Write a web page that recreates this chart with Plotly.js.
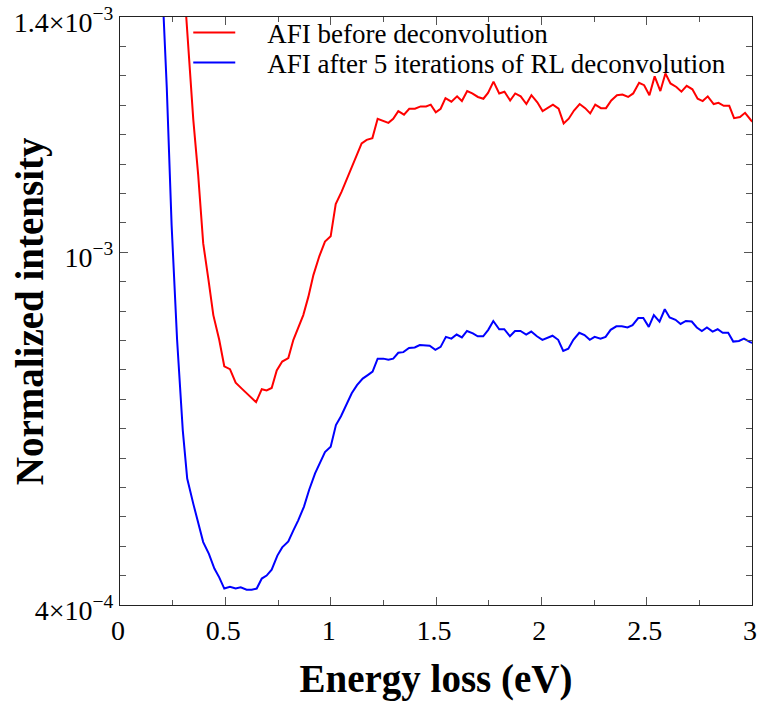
<!DOCTYPE html>
<html>
<head>
<meta charset="utf-8">
<script src="https://cdn.plot.ly/plotly-3.0.1.min.js"></script>
<style>html,body{margin:0;padding:0;background:#fff;}</style>
</head>
<body>
<div id="chart" style="width:757px;height:702px;"></div>
<script>
// Energy loss (eV)
const redEnergy = [0.299,0.348,0.371,0.395,0.420,0.443,0.471,0.495,0.522,0.549,0.578,0.604,0.625,0.646,0.673,0.696,0.720,0.744,0.770,0.799,0.823,0.846,0.870,0.894,0.918,0.946,0.973,1.000,1.024,1.052,1.076,1.100,1.124,1.147,1.171,1.198,1.223,1.250,1.274,1.297,1.321,1.348,1.373,1.400,1.427,1.453,1.475,1.499,1.522,1.545,1.573,1.600,1.623,1.648,1.672,1.699,1.725,1.747,1.773,1.800,1.825,1.852,1.876,1.902,1.929,1.953,1.981,2.006,2.031,2.055,2.082,2.106,2.130,2.155,2.182,2.208,2.232,2.256,2.283,2.307,2.332,2.359,2.385,2.412,2.436,2.464,2.488,2.513,2.538,2.565,2.589,2.613,2.641,2.665,2.690,2.717,2.742,2.766,2.790,2.818,2.841,2.866,2.892,2.915,2.943,2.967,2.996,3.019];
// Normalized intensity, in units of 1e-3
const redIntensity = [1.481,1.225,1.132,1.015,0.953,0.893,0.851,0.806,0.801,0.778,0.768,0.759,0.751,0.745,0.767,0.765,0.769,0.799,0.814,0.820,0.851,0.873,0.893,0.924,0.961,0.993,1.018,1.027,1.082,1.103,1.123,1.146,1.166,1.185,1.191,1.194,1.227,1.224,1.220,1.227,1.240,1.234,1.244,1.244,1.248,1.248,1.251,1.238,1.244,1.262,1.256,1.265,1.257,1.274,1.270,1.264,1.261,1.271,1.290,1.270,1.273,1.258,1.270,1.265,1.252,1.267,1.255,1.240,1.245,1.251,1.244,1.219,1.227,1.241,1.252,1.245,1.236,1.251,1.245,1.245,1.258,1.267,1.268,1.264,1.270,1.288,1.284,1.267,1.299,1.274,1.304,1.287,1.281,1.273,1.283,1.277,1.261,1.257,1.265,1.252,1.254,1.249,1.249,1.228,1.230,1.237,1.224,1.217];

const blueEnergy = [0.195,0.222,0.245,0.271,0.298,0.319,0.348,0.372,0.395,0.422,0.448,0.471,0.495,0.522,0.549,0.573,0.601,0.625,0.649,0.673,0.696,0.720,0.747,0.770,0.799,0.823,0.846,0.873,0.898,0.926,0.949,0.973,1.000,1.025,1.049,1.076,1.100,1.125,1.152,1.176,1.199,1.223,1.250,1.274,1.297,1.321,1.345,1.372,1.399,1.423,1.446,1.470,1.497,1.522,1.547,1.573,1.598,1.623,1.647,1.675,1.698,1.724,1.748,1.772,1.800,1.824,1.851,1.875,1.901,1.928,1.952,1.979,2.005,2.029,2.053,2.080,2.104,2.128,2.152,2.180,2.205,2.230,2.253,2.281,2.305,2.329,2.356,2.382,2.409,2.433,2.460,2.484,2.510,2.534,2.561,2.586,2.609,2.637,2.661,2.686,2.714,2.738,2.762,2.786,2.813,2.837,2.861,2.887,2.911,2.938,2.962,2.991,3.019];
const blueIntensity = [1.498,1.280,1.046,0.851,0.697,0.615,0.572,0.541,0.507,0.487,0.462,0.447,0.428,0.431,0.428,0.430,0.426,0.426,0.428,0.445,0.450,0.460,0.484,0.498,0.508,0.527,0.544,0.567,0.596,0.624,0.643,0.660,0.669,0.706,0.721,0.743,0.760,0.774,0.785,0.791,0.797,0.819,0.819,0.817,0.819,0.829,0.830,0.837,0.838,0.842,0.841,0.841,0.834,0.839,0.856,0.853,0.860,0.855,0.866,0.862,0.857,0.857,0.868,0.883,0.869,0.869,0.857,0.866,0.866,0.860,0.865,0.857,0.851,0.855,0.858,0.851,0.832,0.836,0.851,0.863,0.859,0.851,0.856,0.853,0.856,0.868,0.874,0.874,0.872,0.876,0.888,0.888,0.873,0.893,0.882,0.903,0.889,0.885,0.878,0.883,0.882,0.872,0.866,0.872,0.865,0.869,0.863,0.863,0.848,0.849,0.853,0.847,0.844];

const seriesNames = ['AFI before deconvolution', 'AFI after 5 iterations of RL deconvolution'];
const xTickVals = [0, 0.5, 1, 1.5, 2, 2.5, 3];
const xTickText = ['0', '0.5', '1', '1.5', '2', '2.5', '3'];
const yTickVals = [0.4, 1.0, 1.4];
const yTickText = ['4×10<sup>−4</sup>', '10<sup>−3</sup>', '1.4×10<sup>−3</sup>'];

const serif = 'Liberation Serif, Times New Roman, serif';
const pad = '\u00A0\u00A0\u00A0\u00A0';

const traces = [
  {x: redEnergy, y: redIntensity, name: pad + seriesNames[0], mode: 'lines', legend: 'legend',
   line: {color: 'rgb(255,0,0)', width: 2}},
  {x: blueEnergy, y: blueIntensity, name: pad + seriesNames[1], mode: 'lines', legend: 'legend2',
   line: {color: 'rgb(0,0,255)', width: 2}}
];

const legendBase = {xanchor: 'left', yanchor: 'middle', bgcolor: 'rgba(0,0,0,0)',
  font: {family: serif, size: 27, color: '#000'}, itemwidth: 42, borderwidth: 0};

const layout = {
  width: 757, height: 702,
  margin: {l: 120, r: 5, t: 17, b: 97},
  paper_bgcolor: '#fff', plot_bgcolor: '#fff',
  font: {family: serif, color: '#000'},
  showlegend: true,
  legend: Object.assign({}, legendBase, {x: 0.108, y: 0.9728}),
  legend2: Object.assign({}, legendBase, {x: 0.108, y: 0.9218}),
  xaxis: {
    range: [0, 3], tickmode: 'array', tickvals: xTickVals, ticktext: xTickText,
    ticks: 'inside', ticklen: 8, tickwidth: 1, tickcolor: '#555', ticklabeloverflow: 'allow',
    ticklabelshift: -2,
    minor: {dtick: 0.25, tick0: 0, ticks: 'inside', ticklen: 5, tickcolor: '#555', showgrid: false},
    showline: true, linecolor: '#222', linewidth: 1, mirror: 'ticks',
    showgrid: false, zeroline: false,
    tickfont: {family: serif, size: 28, color: '#000'},
    title: {text: '<b>Energy loss (eV)</b>', font: {family: serif, size: 39, color: '#000'}, standoff: 20}
  },
  yaxis: {
    range: [0.4, 1.4], tickmode: 'array', tickvals: yTickVals, ticktext: yTickText,
    ticks: 'inside', ticklen: 8, tickwidth: 1, tickcolor: '#555', ticklabeloverflow: 'allow',
    ticklabelshift: 5,
    minor: {dtick: 0.05, tick0: 0.4, ticks: 'inside', ticklen: 6, tickcolor: '#555', showgrid: false},
    showline: true, linecolor: '#222', linewidth: 1, mirror: 'ticks',
    showgrid: false, zeroline: false,
    tickfont: {family: serif, size: 28, color: '#000'}
  },
  annotations: [{
    text: '<b>Normalized intensity</b>', xref: 'paper', yref: 'paper',
    x: -0.142, y: 0.5, xanchor: 'center', yanchor: 'middle', textangle: -90, showarrow: false,
    font: {family: serif, size: 39, color: '#000'}
  }]
};

Plotly.newPlot('chart', traces, layout, {displayModeBar: false, staticPlot: true});
</script>
</body>
</html>
